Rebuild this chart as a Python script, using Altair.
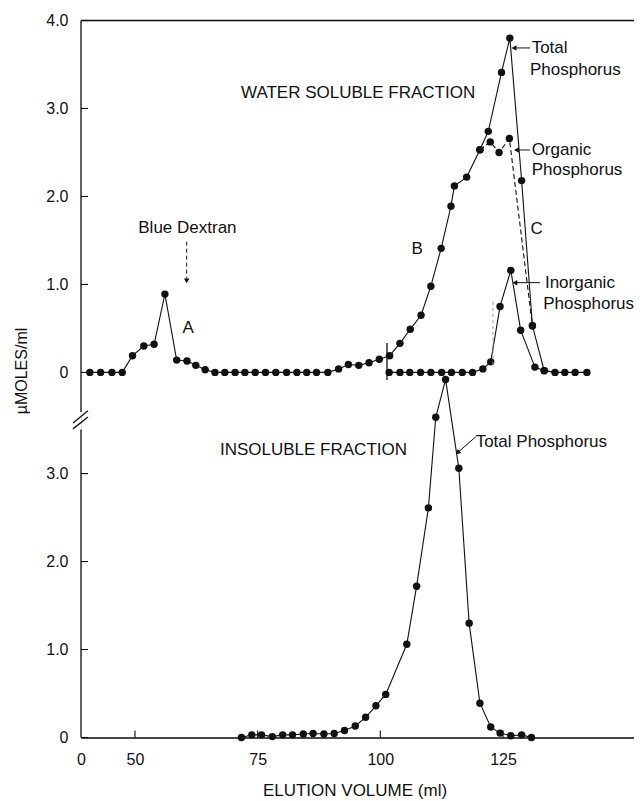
import altair as alt
import pandas as pd

FONT = "Liberation Sans"
INK = "#111111"
OFFSET = 4.15          # upper (water soluble) panel sits above the insoluble panel
X0, X1 = 39.0, 151.7   # broken x axis: origin "0" drawn at the left edge
YTOP = 8.15

# ---------------- data ----------------
# Water soluble fraction - total phosphorus
ws_total_ml = [40.8, 43.0, 45.3, 47.4, 49.5, 51.8, 53.9, 56.1, 58.5, 60.6,
               62.4, 64.3, 66.3, 68.3, 70.4, 72.4, 74.5, 76.6, 78.7, 80.9,
               83.0, 85.0, 87.0, 89.3, 91.5, 93.5, 95.6, 97.7, 99.8, 101.9,
               104.0, 106.1, 108.3, 110.3, 112.4, 114.4, 115.1, 117.6, 120.3, 122.0,
               124.7, 126.4, 128.8, 131.0, 133.4, 135.6, 137.6, 139.7, 142.1]
ws_total_val = [0, 0, 0, 0, 0.19, 0.30, 0.32, 0.89, 0.14, 0.13,
                0.08, 0.03, 0, 0, 0, 0, 0, 0, 0, 0,
                0, 0, 0, 0, 0.04, 0.09, 0.08, 0.11, 0.15, 0.19,
                0.33, 0.49, 0.65, 0.98, 1.41, 1.89, 2.12, 2.22, 2.53, 2.74,
                3.41, 3.80, 2.18, 0.53, 0.02, 0, 0, 0, 0]

# Water soluble fraction - organic phosphorus
ws_org_ml = [120.3, 122.4, 124.2, 126.3, 131.0]
ws_org_val = [2.53, 2.62, 2.50, 2.66, 0.53]

# Water soluble fraction - inorganic phosphorus
ws_inorg_ml = [101.8, 104.0, 106.0, 108.2, 110.3, 112.5, 114.5, 116.7, 118.8,
               120.9, 122.5, 124.4, 126.6, 128.6, 131.5, 133.4]
ws_inorg_val = [0, 0, 0, 0, 0, 0, 0, 0, 0,
                0.04, 0.12, 0.75, 1.16, 0.48, 0.06, 0.02]

# Insoluble fraction - total phosphorus
ins_ml = [71.7, 73.8, 75.8, 78.0, 80.1, 82.1, 84.3, 86.3, 88.5, 90.6,
          92.7, 94.9, 97.0, 99.1, 101.1, 105.4, 107.4, 109.8, 111.3, 113.3,
          116.0, 118.1, 120.3, 122.5, 124.4, 126.6, 128.8, 130.8]
ins_val = [0.0, 0.03, 0.03, 0.01, 0.03, 0.03, 0.04, 0.045, 0.04, 0.045,
           0.08, 0.13, 0.23, 0.36, 0.49, 1.06, 1.72, 2.61, 3.64, 4.07,
           3.06, 1.30, 0.39, 0.12, 0.05, 0.02, 0.03, 0.0]

x_tick_values = [39, 50, 75, 100, 125]
y_tick_values = [0, 1, 2, 3, 4.15, 5.15, 6.15, 7.15, 8.15]


def frame(ml, val, shift):
    return pd.DataFrame({"x": ml, "val": val, "y": [v + shift for v in val]})


df_total = frame(ws_total_ml, ws_total_val, OFFSET)
df_org = frame(ws_org_ml, ws_org_val, OFFSET)
df_inorg = frame(ws_inorg_ml, ws_inorg_val, OFFSET)
df_ins = frame(ins_ml, ins_val, 0.0)

# ---------------- annotations (layout) ----------------
left_texts = pd.DataFrame({
    "t": ["WATER SOLUBLE FRACTION", "Blue Dextran", "Total", "Phosphorus",
          "Organic", "Phosphorus", "Inorganic", "Phosphorus",
          "INSOLUBLE FRACTION", "Total Phosphorus"],
    "x": [71.6, 50.67, 130.84, 130.5, 130.84, 130.84, 133.55, 133.21, 67.32, 119.43],
    "y": [7.323, 5.795, 7.838, 7.588, 6.678, 6.451, 5.170, 4.925, 3.269, 3.357],
})
center_texts = pd.DataFrame({
    "t": ["A", "B", "C"],
    "x": [60.86, 107.53, 131.86],
    "y": [4.652, 5.55, 5.777],
})
arrows = pd.DataFrame({
    "x": [130.5, 130.5, 132.54, 119.49],
    "x2": [127.4, 127.9, 127.6, 115.9],
    "y": [7.838, 6.678, 5.170, 3.420],
    "y2": [7.838, 6.678, 5.170, 3.245],
})
heads = pd.DataFrame({
    "x": [127.4, 127.9, 127.6, 115.9, 60.54],
    "y": [7.838, 6.678, 5.170, 3.245, 5.20],
    "ang": [270, 270, 270, 228, 180],
})
dex_arrow = pd.DataFrame({"x": [60.54], "x2": [60.54], "y": [5.636], "y2": [5.22]})
frame_lines = pd.DataFrame({
    "x": [X0, X0, X0, 37.37, 37.37, 101.36],
    "x2": [X0, X0, X1, 40.42, 40.42, 101.36],
    "y": [YTOP, 3.50, YTOP, 3.576, 3.508, 4.485],
    "y2": [3.70, 0.0, YTOP, 3.713, 3.644, 4.065],
})
faint = pd.DataFrame({"x": [122.96], "x2": [122.96], "y": [4.951], "y2": [4.201]})
ticks = pd.DataFrame({
    "x": [X0] * len(y_tick_values) + x_tick_values[1:],
    "x2": [X0 + 1.43] * len(y_tick_values) + x_tick_values[1:],
    "y": y_tick_values + [0.0] * (len(x_tick_values) - 1),
    "y2": y_tick_values + [0.08] * (len(x_tick_values) - 1),
})

xs = alt.Scale(domain=[X0, X1], nice=False, zero=False)
ys = alt.Scale(domain=[0, YTOP], nice=False, zero=False)

x_axis = alt.Axis(
    values=x_tick_values,
    labelExpr="datum.value < 45 ? '0' : datum.label",
    ticks=False, grid=False, domain=True, domainColor=INK, domainWidth=1.3,
    labelFont=FONT, labelFontSize=16, labelColor=INK, labelPadding=14,
    labelFlush=False, labelOverlap=False,
    title="ELUTION VOLUME (ml)", titleFont=FONT, titleFontSize=17,
    titleFontWeight="normal", titleColor=INK, titleX=273.5, titleY=58,
    titleAlign="center", titleBaseline="alphabetic",
)
y_axis = alt.Axis(
    values=y_tick_values,
    labelExpr="datum.value > 4 ? (datum.value < 4.2 ? '0' : format(datum.value - 4.15, '.1f')) : (datum.value == 0 ? '0' : format(datum.value, '.1f'))",
    ticks=False, grid=False, domain=False,
    labelFont=FONT, labelFontSize=16, labelColor=INK, labelPadding=13,
    labelFlush=False, labelOverlap=False,
    title="µMOLES/ml", titleFont=FONT, titleFontSize=16, titleFontWeight="normal",
    titleColor=INK, titleX=-60, titleY=350, titleAngle=270,
    titleAlign="center", titleBaseline="middle",
)


def X():
    return alt.X("x:Q", scale=xs, axis=x_axis)


def Y():
    return alt.Y("y:Q", scale=ys, axis=y_axis)


def series_layers(df, dashed=False):
    line_kw = dict(color=INK, strokeWidth=1.1)
    if dashed:
        line_kw["strokeDash"] = [5, 3]
    line = alt.Chart(df).mark_line(**line_kw).encode(x=X(), y=Y())
    pts = alt.Chart(df).mark_circle(color=INK, size=55, opacity=1).encode(x=X(), y=Y())
    return [line, pts]


def seg(df, **kw):
    return alt.Chart(df).mark_rule(**kw).encode(x=X(), x2="x2:Q", y=Y(), y2="y2:Q")


layers = []
layers += series_layers(df_ins)
layers += series_layers(df_total)
layers += series_layers(df_org, dashed=True)
layers += series_layers(df_inorg)
layers.append(seg(frame_lines, color=INK, strokeWidth=1.3))
layers.append(seg(ticks, color=INK, strokeWidth=1.1))
layers.append(seg(faint, color="#999999", strokeWidth=1, strokeDash=[3, 3]))
layers.append(seg(arrows, color=INK, strokeWidth=1))
layers.append(seg(dex_arrow, color=INK, strokeWidth=1, strokeDash=[4, 3]))
layers.append(alt.Chart(heads).mark_point(shape="triangle", filled=True, size=30,
                                          color=INK, opacity=1).encode(
    x=X(), y=Y(), angle=alt.Angle("ang:Q", scale=None)))
layers.append(alt.Chart(left_texts).mark_text(align="left", baseline="middle", font=FONT,
                                              fontSize=17, color=INK).encode(
    x=X(), y=Y(), text="t:N"))
layers.append(alt.Chart(center_texts).mark_text(align="center", baseline="middle", font=FONT,
                                                fontSize=17, color=INK).encode(
    x=X(), y=Y(), text="t:N"))

chart = alt.layer(*layers).properties(
    width=553, height=717,
    padding={"left": 73, "top": 12.5, "right": 0, "bottom": 62},
    autosize=alt.AutoSizeParams(type="none"),
    background="white",
).configure_view(stroke=None).configure(font=FONT)

chart.save("out.html", embed_options={"renderer": "svg", "actions": False})
